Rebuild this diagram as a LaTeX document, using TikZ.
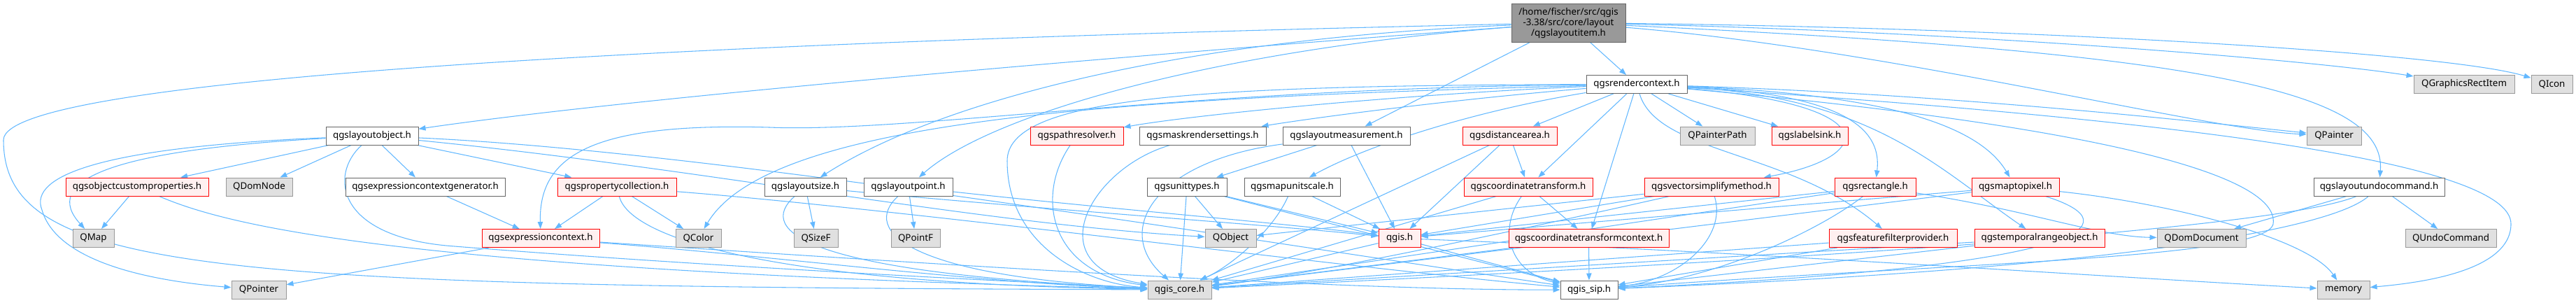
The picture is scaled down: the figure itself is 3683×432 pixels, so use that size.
\documentclass[tikz,border=0pt]{standalone}
\usepackage{fontspec}
\setmainfont{Noto Sans}
\usetikzlibrary{arrows.meta,backgrounds}
\definecolor{edgec}{HTML}{63B8FF}
\definecolor{boxgray}{HTML}{666666}
\definecolor{extgray}{HTML}{999999}
\definecolor{extfill}{HTML}{E0E0E0}
\definecolor{redfill}{HTML}{FFF0F0}
\definecolor{mainfill}{HTML}{999999}
\tikzset{
 nb/.style={draw, rectangle, inner sep=0pt, minimum height=19.5pt, font=\fontsize{10}{12}\selectfont, line width=0.75pt},
 wbox/.style={nb, draw=boxgray, fill=white},
 gbox/.style={nb, draw=extgray, fill=extfill},
 rbox/.style={nb, draw=red, fill=redfill},
 mbox/.style={nb, draw=boxgray, fill=mainfill, minimum height=41.25pt, align=center, font=\fontsize{10}{11.25}\selectfont},
 lnk/.style={draw=edgec, line width=0.8pt, -{Triangle[length=7.5pt,width=5.5pt]}},
}
\begin{document}
\begin{tikzpicture}[x=0.75pt,y=-0.75pt]
\useasboundingbox (0,0) rectangle (3683,432);
% row 0/1
\node[mbox, minimum width=122.25pt] (M) at (2242.5,32.5) {/home/fischer/src/qgis\\-3.38/src/core/layout\\/qgslayoutitem.h};
\node[wbox, minimum width=108pt] (R) at (2340,120.5) {qgsrendercontext.h};
\node[gbox, minimum width=108pt] (GRI) at (3523,120.5) {QGraphicsRectItem};
\node[gbox, minimum width=44.25pt] (ICON) at (3648.5,120.5) {QIcon};
% row 2
\node[wbox, minimum width=99pt] (LO) at (532,194) {qgslayoutobject.h};
\node[rbox, minimum width=99.75pt] (PR) at (1539.5,194) {qgspathresolver.h};
\node[wbox, minimum width=135.75pt] (MRS) at (1719.5,194) {qgsmaskrendersettings.h};
\node[wbox, minimum width=136.5pt] (LM) at (1925,194) {qgslayoutmeasurement.h};
\node[rbox, minimum width=101.25pt] (DA) at (2158.5,194) {qgsdistancearea.h};
\node[gbox, minimum width=80.25pt] (PP) at (2455.5,194) {QPainterPath};
\node[rbox, minimum width=81.75pt] (LS) at (2587.5,194) {qgslabelsink.h};
\node[gbox, minimum width=58.5pt] (QP) at (3337,194) {QPainter};
% row 3
\node[rbox, minimum width=153pt] (OCP) at (196,267) {qgsobjectcustomproperties.h};
\node[gbox, minimum width=71.25pt] (DN) at (370.5,267) {QDomNode};
\node[wbox, minimum width=171pt] (ECG) at (608,267) {qgsexpressioncontextgenerator.h};
\node[rbox, minimum width=127.5pt] (PC) at (882,267) {qgspropertycollection.h};
\node[wbox, minimum width=87.75pt] (LSZ) at (1151.5,267) {qgslayoutsize.h};
\node[wbox, minimum width=95.25pt] (LPT) at (1298.5,267) {qgslayoutpoint.h};
\node[wbox, minimum width=85.5pt] (UT) at (1697,267) {qgsunittypes.h};
\node[wbox, minimum width=102.75pt] (MUS) at (1847.5,267) {qgsmapunitscale.h};
\node[rbox, minimum width=138pt] (CT) at (2185,267) {qgscoordinatetransform.h};
\node[rbox, minimum width=144pt] (VSM) at (2447,267) {qgsvectorsimplifymethod.h};
\node[rbox, minimum width=87pt] (RECT) at (2681,267) {qgsrectangle.h};
\node[rbox, minimum width=93.75pt] (MTP) at (2881.5,267) {qgsmaptopixel.h};
\node[wbox, minimum width=140.25pt] (UNDO) at (3401.5,267) {qgslayoutundocommand.h};
% row 4
\node[gbox, minimum width=44.25pt] (QMAP) at (133.5,340.5) {QMap};
\node[rbox, minimum width=126pt] (EC) at (773,340.5) {qgsexpressioncontext.h};
\node[gbox, minimum width=48.75pt] (QCOL) at (998.5,340.5) {QColor};
\node[gbox, minimum width=47.25pt] (QSZ) at (1166.5,340.5) {QSizeF};
\node[gbox, minimum width=52.5pt] (QPF) at (1309,340.5) {QPointF};
\node[gbox, minimum width=54.75pt] (QOBJ) at (1759.5,340.5) {QObject};
\node[rbox, minimum width=45pt] (QGIS) at (2001,340.5) {qgis.h};
\node[rbox, minimum width=171.75pt] (CTC) at (2271.5,340.5) {qgscoordinatetransformcontext.h};
\node[rbox, minimum width=137.25pt] (FFP) at (2706.5,340.5) {qgsfeaturefilterprovider.h};
\node[rbox, minimum width=139.5pt] (TRO) at (2916,340.5) {qgstemporalrangeobject.h};
\node[gbox, minimum width=95.25pt] (QDD) at (3147.5,340.5) {QDomDocument};
\node[gbox, minimum width=97.5pt] (QUC) at (3504,340.5) {QUndoCommand};
% row 5
\node[gbox, minimum width=58.5pt] (QPTR) at (370,414) {QPointer};
\node[gbox, minimum width=68.25pt] (CORE) at (1686.5,414) {qgis\_core.h};
\node[wbox, minimum width=61.5pt] (SIP) at (2272,414) {qgis\_sip.h};
\node[gbox, minimum width=56.25pt] (MEM) at (3350.5,414) {memory};

\begin{scope}[on background layer]
% main
\draw[lnk] (M) .. controls (1000,60) and (5,110) .. (5,200) .. controls (5,390) and (300,410) .. (CORE);
\draw[lnk] (M) .. controls (1600,80) and (900,140) .. (LO);
\draw[lnk] (M) .. controls (1700,55) and (1350,140) .. (LSZ);
\draw[lnk] (M) .. controls (1750,70) and (1420,160) .. (LPT);
\draw[lnk] (M) -- (LM);
\draw[lnk] (M) -- (R);
\draw[lnk] (M) .. controls (2800,45) and (3300,85) .. (GRI);
\draw[lnk] (M) .. controls (2900,40) and (3500,75) .. (ICON);
\draw[lnk] (M) .. controls (2700,70) and (3150,185) .. (QP);
\draw[lnk] (M) .. controls (3150,75) and (3412,130) .. (UNDO);
% rendercontext
\draw[lnk] (R) .. controls (2000,135) and (1700,165) .. (PR);
\draw[lnk] (R) .. controls (2100,140) and (1900,165) .. (MRS);
\draw[lnk] (R) .. controls (1700,122) and (1440,140) .. (1440,230) .. controls (1440,350) and (1550,405) .. (CORE);
\draw[lnk] (R) .. controls (1700,126) and (1300,190) .. (1100,182) .. controls (850,175) and (770,220) .. (EC);
\draw[lnk] (R) .. controls (1600,140) and (1100,170) .. (QCOL);
\draw[lnk] (R) .. controls (2100,160) and (1950,210) .. (MUS);
\draw[lnk] (R) -- (DA);
\draw[lnk] (R) -- (CT);
\draw[lnk] (R) -- (CTC);
\draw[lnk] (R) -- (PP);
\draw[lnk] (R) -- (LS);
\draw[lnk] (R) .. controls (2700,150) and (2680,225) .. (VSM);
\draw[lnk] (R) .. controls (2370,220) and (2560,215) .. (FFP);
\draw[lnk] (R) .. controls (2650,135) and (2690,190) .. (RECT);
\draw[lnk] (R) .. controls (2700,135) and (2830,180) .. (MTP);
\draw[lnk] (R) .. controls (2680,140) and (2770,240) .. (TRO);
\draw[lnk] (R) .. controls (2800,135) and (3150,175) .. (QP);
\draw[lnk] (R) .. controls (3100,170) and (3590,230) .. (3590,320) .. controls (3590,390) and (3450,405) .. (MEM);
\draw[lnk] (R) .. controls (3000,180) and (3260,250) .. (3250,320) .. controls (3240,370) and (2800,375) .. (SIP);
% layoutobject
\draw[lnk] (LO) -- (OCP);
\draw[lnk] (LO) -- (DN);
\draw[lnk] (LO) -- (ECG);
\draw[lnk] (LO) -- (PC);
\draw[lnk] (LO) .. controls (150,215) and (60,260) .. (QMAP);
\draw[lnk] (LO) .. controls (150,210) and (40,250) .. (60,300) .. controls (80,370) and (200,400) .. (QPTR);
\draw[lnk] (LO) .. controls (470,250) and (480,340) .. (650,352) .. controls (1000,380) and (1400,400) .. (CORE);
\draw[lnk] (LO) .. controls (1000,215) and (1700,330) .. (SIP);
\draw[lnk] (LO) .. controls (1000,240) and (1400,320) .. (QOBJ);
% second level
\draw[lnk] (OCP) -- (QMAP);
\draw[lnk] (OCP) .. controls (320,320) and (550,385) .. (CORE);
\draw[lnk] (ECG) -- (EC);
\draw[lnk] (PC) -- (EC);
\draw[lnk] (PC) -- (QCOL);
\draw[lnk] (PC) .. controls (900,340) and (1100,405) .. (CORE);
\draw[lnk] (PC) .. controls (1300,300) and (1900,380) .. (SIP);
\draw[lnk] (EC) -- (QPTR);
\draw[lnk] (EC) .. controls (1100,365) and (1400,405) .. (CORE);
\draw[lnk] (EC) .. controls (1300,375) and (1900,415) .. (SIP);
\draw[lnk] (LSZ) -- (QSZ);
\draw[lnk] (LSZ) .. controls (1080,330) and (1150,390) .. (CORE);
\draw[lnk] (LSZ) .. controls (1500,300) and (1800,320) .. (QGIS);
\draw[lnk] (LPT) -- (QPF);
\draw[lnk] (LPT) .. controls (1230,330) and (1300,395) .. (CORE);
\draw[lnk] (LPT) .. controls (1600,300) and (1850,320) .. (QGIS);
\draw[lnk] (PR) .. controls (1480,280) and (1500,390) .. (CORE);
\draw[lnk] (MRS) .. controls (1560,240) and (1480,380) .. (CORE);
\draw[lnk] (LM) -- (UT);
\draw[lnk] (LM) .. controls (1650,230) and (1590,330) .. (CORE);
\draw[lnk] (LM) -- (QGIS);
\draw[lnk] (UT) -- (QOBJ);
\draw[lnk] (UT) -- (CORE);
\draw[lnk] (UT) -- (QGIS);
\draw[lnk] (UT) -- (SIP);
\draw[lnk] (MUS) .. controls (1820,330) and (1760,380) .. (CORE);
\draw[lnk] (MUS) -- (QGIS);
\draw[lnk] (DA) -- (CT);
\draw[lnk] (DA) -- (QGIS);
\draw[lnk] (DA) -- (CORE);
\draw[lnk] (CT) -- (CTC);
\draw[lnk] (CT) -- (CORE);
\draw[lnk] (CT) .. controls (2140,330) and (2160,390) .. (SIP);
\draw[lnk] (CTC) -- (SIP);
\draw[lnk] (CTC) -- (CORE);
\draw[lnk] (QGIS) -- (CORE);
\draw[lnk] (QGIS) -- (SIP);
\draw[lnk] (QGIS) .. controls (2500,360) and (3000,395) .. (MEM);
\draw[lnk] (VSM) -- (QOBJ);
\draw[lnk] (VSM) -- (QGIS);
\draw[lnk] (VSM) .. controls (2470,340) and (2400,400) .. (SIP);
\draw[lnk] (VSM) .. controls (2300,300) and (1900,390) .. (CORE);
\draw[lnk] (RECT) -- (QGIS);
\draw[lnk] (RECT) -- (CORE);
\draw[lnk] (RECT) .. controls (2600,330) and (2450,400) .. (SIP);
\draw[lnk] (RECT) .. controls (2900,300) and (3000,338) .. (QDD);
\draw[lnk] (MTP) -- (QGIS);
\draw[lnk] (MTP) -- (CORE);
\draw[lnk] (MTP) .. controls (3050,320) and (3000,380) .. (SIP);
\draw[lnk] (MTP) .. controls (3100,290) and (3300,340) .. (MEM);
\draw[lnk] (FFP) -- (CORE);
\draw[lnk] (FFP) -- (SIP);
\draw[lnk] (TRO) -- (CORE);
\draw[lnk] (TRO) -- (SIP);
\draw[lnk] (UNDO) -- (QDD);
\draw[lnk] (UNDO) -- (QUC);
\draw[lnk] (UNDO) .. controls (3250,330) and (2500,375) .. (CORE);
\draw[lnk] (UNDO) .. controls (3330,330) and (3000,385) .. (SIP);
\end{scope}
\end{tikzpicture}
\end{document}
